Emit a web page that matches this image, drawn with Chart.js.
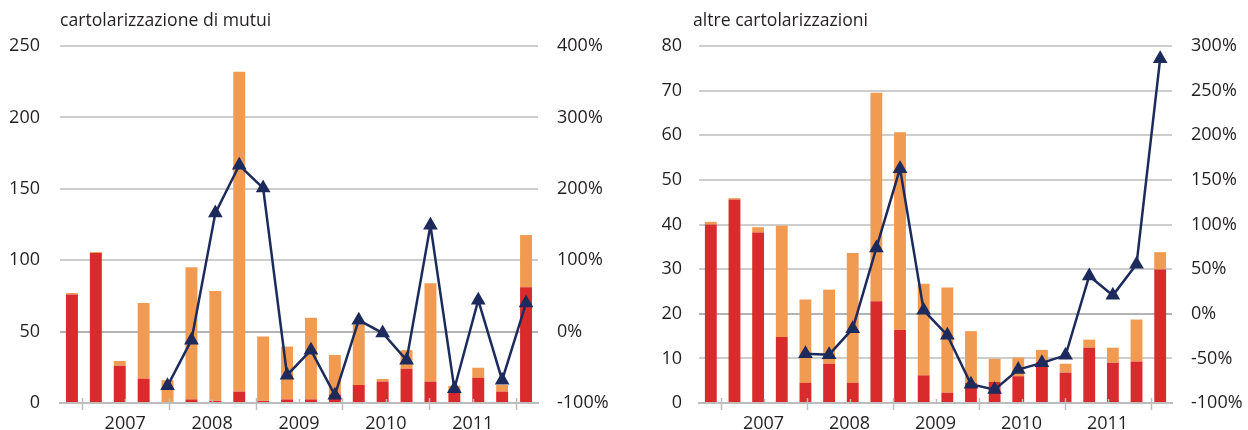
<!DOCTYPE html>
<html>
<head>
<meta charset="utf-8">
<script src="https://cdn.jsdelivr.net/npm/chart.js@4"></script>
<style>
  body { margin: 0; background: #fff; }
  .pannello { position: absolute; top: 0; height: 430px; }
</style>
</head>
<body>
<div class="pannello" style="left:0;width:620px"><canvas id="mutui" width="620" height="430"></canvas></div>
<div class="pannello" style="left:630px;width:618px"><canvas id="altre" width="618" height="430"></canvas></div>
<script>
// trimestri 2007-2011
const trimestri = [
  "2007 T1", "2007 T2", "2007 T3", "2007 T4",
  "2008 T1", "2008 T2", "2008 T3", "2008 T4",
  "2009 T1", "2009 T2", "2009 T3", "2009 T4",
  "2010 T1", "2010 T2", "2010 T3", "2010 T4",
  "2011 T1", "2011 T2", "2011 T3", "2011 T4",
];
const anni = ["2007", "2008", "2009", "2010", "2011"];

// cartolarizzazione di mutui
const mutuiRosso = [76, 105, 26, 17, 0, 2.5, 1.5, 8, 1.5, 2.5, 2.5, 6, 12.6, 15, 24, 15, 9, 17.7, 8, 81];
const mutuiArancio = [1, 0.7, 3.4, 53, 16, 92.5, 77, 224, 45, 37, 57.2, 27.6, 42.4, 1.8, 13, 68.8, 3, 7, 4.6, 36.6];
const mutuiVariazione = [null, null, null, null, -76, -12, 166, 233, 201, -61, -26, -89, 16, -2, -40, 149, -80, 44, -68, 40];

// altre cartolarizzazioni
const altreRosso = [40, 45.6, 38.2, 14.8, 4.5, 8.8, 4.5, 22.8, 16.4, 6.2, 2.3, 4.5, 4.7, 6, 9.2, 6.8, 12.4, 9, 9.3, 29.9];
const altreArancio = [0.6, 0.3, 1.2, 24.9, 18.7, 16.6, 29.1, 46.7, 44.3, 20.5, 23.6, 11.6, 5.2, 4.2, 2.7, 2, 1.8, 3.4, 9.4, 3.9];
const altreVariazione = [null, null, null, null, -44.7, -45.8, -16.7, 73.7, 162.6, 3.8, -24, -79, -85, -62.6, -55, -46.6, 42.3, 20.6, 55.4, 285.8];

const ROSSO = "#D92A2C";
const ARANCIO = "#F09A52";
const BLU = "#1D2B5C";
const GRIGIO = "#CDCDCD";
const TESTO = "#231F20";

Chart.defaults.font.family = "'Open Sans', 'Noto Sans', sans-serif";
Chart.defaults.font.size = 18;
Chart.defaults.color = TESTO;

// titolo in alto a sinistra e tacche dell'asse orizzontale
const decorazioni = {
  id: "decorazioni",
  afterDraw(chart, args, opts) {
    const ctx = chart.ctx;
    const area = chart.chartArea;
    ctx.save();
    ctx.fillStyle = TESTO;
    ctx.font = "17.6px 'Open Sans', 'Noto Sans', sans-serif";
    ctx.textBaseline = "alphabetic";
    ctx.fillText(opts.titolo, opts.xTitolo, 26);

    const sc = chart.scales.xAnno;
    ctx.strokeStyle = "#BDBDBD";
    ctx.lineWidth = 1.5;
    for (let k = 0; k <= trimestri.length; k += 2) {
      const x = Math.round(sc.getPixelForValue(k)) + 0.5;
      ctx.beginPath();
      if (k % 4 === 0) {
        ctx.moveTo(x, area.bottom - 5);
        ctx.lineTo(x, area.bottom + 7);
      } else {
        ctx.moveTo(x, area.bottom - 4);
        ctx.lineTo(x, area.bottom);
      }
      ctx.stroke();
    }
    ctx.restore();
  },
};

function grafico(id, cfg) {
  const ctx = document.getElementById(id).getContext("2d");
  return new Chart(ctx, {
    type: "bar",
    data: {
      labels: trimestri,
      datasets: [
        {
          type: "line",
          data: cfg.variazione,
          yAxisID: "y2",
          borderColor: BLU,
          backgroundColor: BLU,
          borderWidth: 2.5,
          pointStyle: "triangle",
          pointRadius: 6,
          pointBackgroundColor: BLU,
          pointBorderColor: BLU,
          tension: 0,
          order: 0,
        },
        {
          data: cfg.rosso,
          backgroundColor: ROSSO,
          yAxisID: "y",
          categoryPercentage: 1,
          barPercentage: 0.5,
          order: 1,
        },
        {
          data: cfg.arancio,
          backgroundColor: ARANCIO,
          yAxisID: "y",
          categoryPercentage: 1,
          barPercentage: 0.5,
          order: 1,
        },
      ],
    },
    options: {
      responsive: false,
      animation: false,
      layout: { padding: { top: 46, left: 0, right: 0, bottom: 0 } },
      plugins: {
        legend: { display: false },
        tooltip: { enabled: false },
        decorazioni: { titolo: cfg.titolo, xTitolo: cfg.xTitolo },
      },
      scales: {
        x: {
          display: false,
          stacked: true,
        },
        xAnno: {
          type: "linear",
          position: "bottom",
          min: 0,
          max: trimestri.length,
          grid: { display: false, drawTicks: false },
          border: { display: true, color: "#BDBDBD", width: 2 },
          ticks: {
            stepSize: 2,
            autoSkip: false,
            maxRotation: 0,
            padding: 10,
            callback: (v) => (v % 4 === 2 ? anni[(v - 2) / 4] : ""),
          },
          afterFit: (s) => { s.height = 27; },
        },
        y: {
          stacked: true,
          position: "left",
          min: 0,
          max: cfg.maxSx,
          ticks: { stepSize: cfg.passoSx, padding: 2 },
          grid: {
            drawTicks: true,
            tickLength: cfg.padSx - 2,
            tickColor: "rgba(0,0,0,0)",
            lineWidth: 2,
            color: (c) => (c.tick.value === cfg.zeroSx ? "#B3B3B3" : GRIGIO),
          },
          border: { display: false },
          afterFit: (s) => { s.width = cfg.largSx; },
        },
        y2: {
          position: "right",
          min: -100,
          max: cfg.maxDx,
          ticks: {
            stepSize: cfg.passoDx,
            padding: 2,
            callback: (v) => v + "%",
          },
          grid: { display: false, drawTicks: true, tickLength: 17 },
          border: { display: false },
          afterFit: (s) => { s.width = cfg.largDx; },
        },
      },
    },
    plugins: [decorazioni],
  });
}

grafico("mutui", {
  titolo: "cartolarizzazione di mutui",
  xTitolo: 60,
  rosso: mutuiRosso,
  arancio: mutuiArancio,
  variazione: mutuiVariazione,
  maxSx: 250, passoSx: 50, zeroSx: 50, padSx: 20, largSx: 60,
  maxDx: 400, passoDx: 100, largDx: 82,
});

grafico("altre", {
  titolo: "altre cartolarizzazioni",
  xTitolo: 63,
  rosso: altreRosso,
  arancio: altreArancio,
  variazione: altreVariazione,
  maxSx: 80, passoSx: 10, zeroSx: 20, padSx: 17, largSx: 69,
  maxDx: 300, passoDx: 50, largDx: 76,
});
</script>
</body>
</html>
